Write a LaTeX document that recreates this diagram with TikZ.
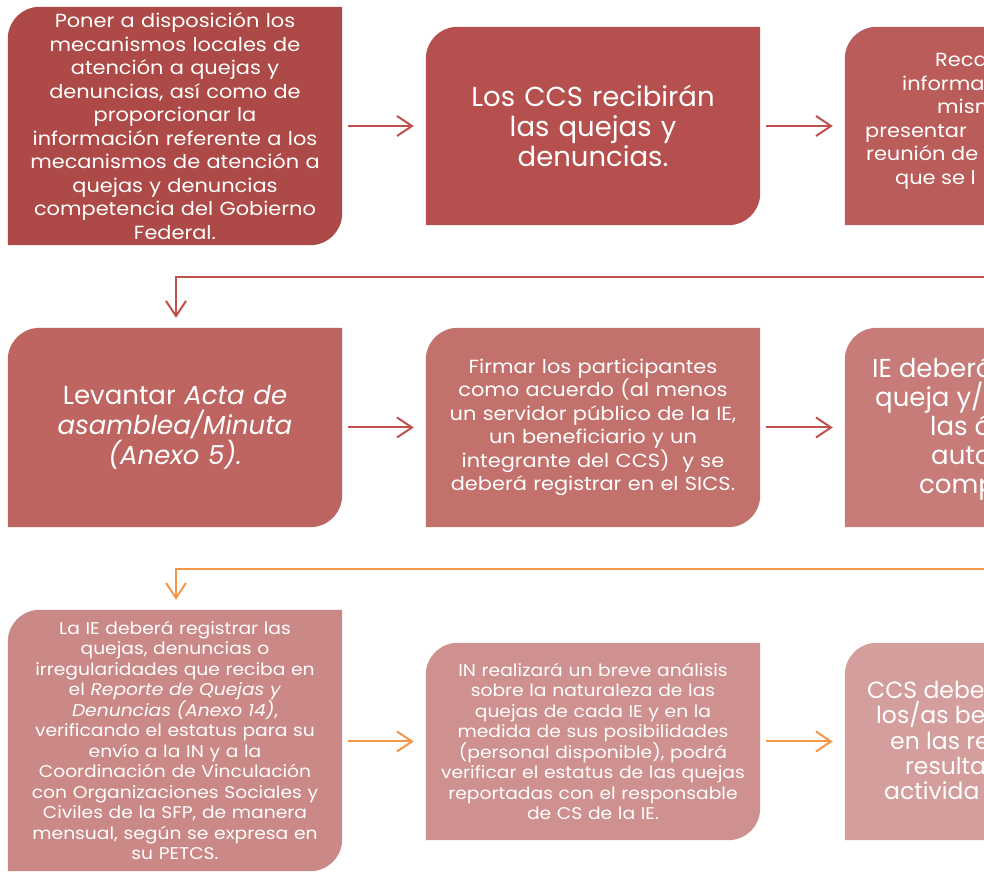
\documentclass[tikz,border=0pt]{standalone}
\usepackage{fontspec}
\setmainfont[FakeStretch=1.1]{Poppins}
\newfontfamily\nostretch{Poppins}
\usetikzlibrary{arrows.meta,backgrounds}
\definecolor{c11}{HTML}{AD4946}
\definecolor{c12}{HTML}{B5504E}
\definecolor{c13}{HTML}{BA5C59}
\definecolor{c21}{HTML}{BE6562}
\definecolor{c22}{HTML}{C3716D}
\definecolor{c23}{HTML}{C77C79}
\definecolor{c31}{HTML}{CA8886}
\definecolor{c32}{HTML}{CE918F}
\definecolor{c33}{HTML}{D39E9C}
\definecolor{linered}{HTML}{C0504D}
\definecolor{lineorange}{HTML}{F79646}
\tikzset{
  flowbox/.style={inner sep=0pt, minimum width=334pt, text width=326pt, align=center, text=white},
  fsmall/.style={font=\fontsize{17}{20.5}\selectfont},
  fmid/.style={font=\fontsize{19}{23.5}\selectfont},
  fbig/.style={font=\nostretch\fontsize{26}{29}\selectfont},
  frag/.style={inner sep=0pt, text=white, anchor=base west},
  arr/.style={line width=2pt, -{Straight Barb[length=15pt,width=20pt,line width=2pt]}},
}
\newcommand{\shapefill}[2]{%
  \fill[#2] (#1.south west) -- ([yshift=-32pt]#1.north west)
    arc[start angle=180,end angle=90,radius=32pt] -- (#1.north east)
    -- ([yshift=32pt]#1.south east) arc[start angle=0,end angle=-90,radius=32pt] -- cycle;}
\begin{document}
\begin{tikzpicture}[x=1pt,y=1pt]
\useasboundingbox (0,0) rectangle (984,872);
\begin{scope}
\clip (0,0) rectangle (984,872);
% row 1
\node[flowbox,fmid,minimum height=238pt] (b11) at (175,746) {Poner a disposición los\\ mecanismos locales de\\ atención a quejas y\\ denuncias, así como de\\ proporcionar la\\ información referente a los\\ mecanismos de atención a\\ quejas y denuncias\\ competencia del Gobierno\\ Federal.};
\node[flowbox,font=\nostretch\fontsize{27.5}{30}\selectfont,minimum height=198pt] (b12) at (593,746) {Los CCS recibirán\\ las quejas y\\ denuncias.};
\node[flowbox,minimum height=198pt] (b13) at (1012,746) {};
\node[frag,fmid] (b13a) at (935,805) {Reca};
\node[frag,fmid] (b13b) at (902,781.5) {informa};
\node[frag,fmid] (b13c) at (937,758) {mism};
\node[frag,fmid] (b13d) at (865,734.5) {presentar};
\node[frag,fmid] (b13e) at (866,711) {reunión de};
\node[frag,fmid] (b13f) at (895,687.5) {que se l};
% row 2
\node[flowbox,font=\nostretch\fontsize{26}{30}\selectfont,minimum height=199pt] (b21) at (175,444.5) {Levantar \textit{Acta de}\\ \textit{asamblea/Minuta}\\ \textit{(Anexo 5).}};
\node[flowbox,fmid,minimum height=199pt] (b22) at (593,444.5) {Firmar los participantes\\ como acuerdo (al menos\\ un servidor público de la IE,\\ un beneficiario y un\\ integrante del CCS)\ \ y se\\ deberá registrar en el SICS.};
\node[flowbox,minimum height=199pt] (b23) at (1012,444.5) {};
\node[frag,fbig] (b23a) at (872,494) {IE deberá};
\node[frag,fbig] (b23b) at (875,465) {queja y/o};
\node[frag,fbig] (b23c) at (930,436) {las á};
\node[frag,fbig] (b23d) at (931,407) {auto};
\node[frag,fbig] (b23e) at (919,378) {comp};
% row 3
\node[flowbox,fsmall,minimum height=261pt] (b31) at (175,131.5) {La IE deberá registrar las\\ quejas, denuncias o\\ irregularidades que reciba en\\ el \textit{Reporte de Quejas y}\\ \textit{Denuncias (Anexo 14)},\\ verificando el estatus para su\\ envío a la IN y a la\\ Coordinación de Vinculación\\ con Organizaciones Sociales y\\ Civiles de la SFP, de manera\\ mensual, según se expresa en\\ su PETCS.};
\node[flowbox,fsmall,minimum height=197pt] (b32) at (593,130.5) {IN realizará un breve análisis\\ sobre la naturaleza de las\\ quejas de cada IE y en la\\ medida de sus posibilidades\\ (personal disponible), podrá\\ verificar el estatus de las quejas\\ reportadas con el responsable\\ de CS de la IE.};
\node[flowbox,minimum height=197pt] (b33) at (1012,130.5) {};
\node[frag,font=\nostretch\fontsize{23.5}{25.5}\selectfont] (b33a) at (867,173) {CCS debe};
\node[frag,font=\nostretch\fontsize{23.5}{25.5}\selectfont] (b33b) at (876,148) {los/as be};
\node[frag,font=\nostretch\fontsize{23.5}{25.5}\selectfont] (b33c) at (890,122) {en las re};
\node[frag,font=\nostretch\fontsize{23.5}{25.5}\selectfont] (b33d) at (905,97) {resulta};
\node[frag,font=\nostretch\fontsize{23.5}{25.5}\selectfont] (b33e) at (884,72) {activida};
\begin{scope}[on background layer]
\fill[white] (0,0) rectangle (984,872);
\shapefill{b11}{c11}\shapefill{b12}{c12}\shapefill{b13}{c13}
\shapefill{b21}{c21}\shapefill{b22}{c22}\shapefill{b23}{c23}
\shapefill{b31}{c31}\shapefill{b32}{c32}\shapefill{b33}{c33}
\end{scope}
% connectors
\draw[arr,linered] ([xshift=6pt]b11.east) -- ([xshift=-12pt]b12.west);
\draw[arr,linered] ([xshift=6pt]b12.east) -- ([xshift=-12pt]b13.west);
\draw[arr,linered] ([xshift=6pt]b21.east) -- ([xshift=-12pt]b22.west);
\draw[arr,linered] ([xshift=6pt]b22.east) -- ([xshift=-12pt]b23.west);
\draw[arr,lineorange] ([xshift=6pt]b32.west -| b31.east) -- ([xshift=-12pt]b32.west);
\draw[arr,lineorange] ([xshift=6pt]b32.east) -- ([xshift=-12pt]b33.west);
\coordinate (t1) at (176,595);
\draw[arr,linered] (b13.south) |- (t1) -- ([yshift=10pt]b21.north -| t1);
\coordinate (t2) at (176,303);
\draw[arr,lineorange] (b23.south) |- (t2) -- ([yshift=10pt]b31.north -| t2);
\end{scope}
\end{tikzpicture}
\end{document}
